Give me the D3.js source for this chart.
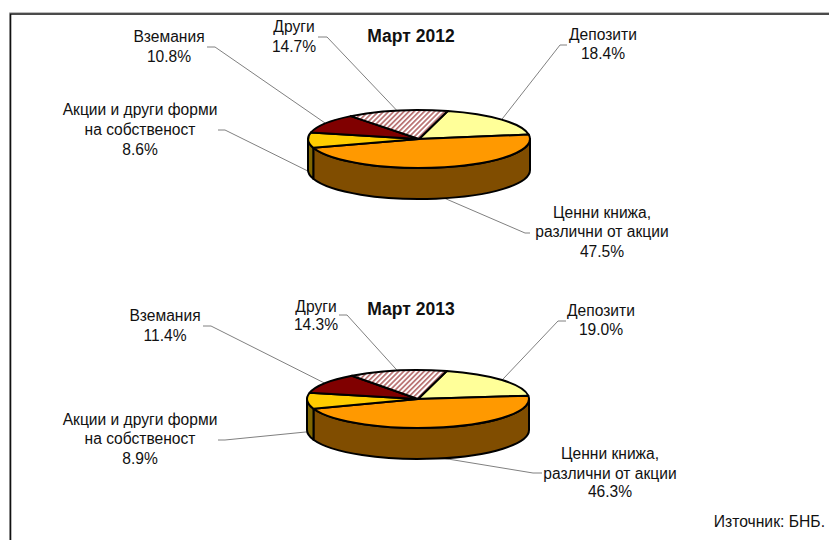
<!DOCTYPE html>
<html><head><meta charset="utf-8">
<script src="https://cdn.jsdelivr.net/npm/d3@7"></script>
<style>
html,body{margin:0;padding:0;background:#fff;overflow:hidden}
svg{display:block}
text{font-family:"Liberation Sans",Arial,sans-serif;fill:#111}
</style></head><body><svg id="c" width="829" height="540"></svg>
<script>
// ---- data ----
const categories = ["Депозити","Ценни книжа, различни от акции","Акции и други форми на собственост","Вземания","Други"];
const periods = ["Март 2012","Март 2013"];
const values2012 = [18.4,47.5,8.6,10.8,14.7];
const values2013 = [19.0,46.3,8.9,11.4,14.3];
const labelLines = [["Депозити"],["Ценни книжа,","различни от акции"],["Акции и други форми","на собственост"],["Вземания"],["Други"]];
const sourceNote = "Източник: БНБ.";
// ---- styles ----
const topColors  = ["#FFFF99","#FF9900","#FFCC00","#800000","url(#hatch)"];
const wallColors = ["#80804D","#804D00","#806600","#400000","#808080"];
// ---- layout ----
const pieLayouts = [
  {cx:419,cy:139,rx:111,ry:29,depth:31,titleY:42},
  {cx:418,cy:399,rx:111,ry:29,depth:31,titleY:315}
];
const labelLayouts = [
  [{x:603,y:[40,59],el:[[567,45],[560,45]]},
   {x:602,y:[218,237,257],el:[[530,233],[525,233]]},
   {x:140,y:[115,135,155],el:[[218,130],[225,130]]},
   {x:169,y:[42,62],el:[[207,47],[215,47]]},
   {x:294,y:[32,52],el:[[318,37],[327,37]]}],
  [{x:601,y:[316,335],el:[[566,321],[558,321]]},
   {x:610,y:[459,479,497],el:[[542,473],[533,473]]},
   {x:140,y:[425,444,464],el:[[218,440],[225,440]]},
   {x:165,y:[321,341],el:[[203,326],[211,326]]},
   {x:316,y:[312,330],el:[[339,315],[347,315]]}]
];
const anchorOnWall = [false,true,true,false,false];
const startDeg = 15;

const svg = d3.select("#c");
const defs = svg.append("defs");
const pat = defs.append("pattern").attr("id","hatch").attr("patternUnits","userSpaceOnUse")
  .attr("width",3.6).attr("height",3.6).attr("patternTransform","rotate(45)");
pat.append("rect").attr("width",3.6).attr("height",3.6).attr("fill","#fff");
pat.append("rect").attr("width",1.7).attr("height",3.6).attr("fill","#B87070");

svg.append("rect").attr("width",829).attr("height",540).attr("fill","#fff");
// frame (top + left only visible)
svg.append("path").attr("d","M9.5 540V12.5H829").attr("fill","none").attr("stroke","#bbb").attr("stroke-width",1);
svg.append("path").attr("d","M10.5 540V14H829").attr("fill","none").attr("stroke","#111").attr("stroke-width",1.6);

const pie = d3.pie().sort(null).value(d=>d)
  .startAngle(startDeg*Math.PI/180).endAngle((startDeg+360)*Math.PI/180);

[values2012,values2013].forEach((vals,k)=>{
  const L = pieLayouts[k];
  const sx = d3.scaleLinear().domain([-1,1]).range([L.cx-L.rx,L.cx+L.rx]);
  const sy = d3.scaleLinear().domain([-1,1]).range([L.cy-L.ry,L.cy+L.ry]);
  const px = a=>sx(Math.sin(a)), py = a=>sy(-Math.cos(a));
  const arcs = pie(vals);
  const g = svg.append("g");

  // leader lines (under pie)
  arcs.forEach((d,i)=>{
    const mid=(d.startAngle+d.endAngle)/2;
    const ax=px(mid), ay=py(mid)+(anchorOnWall[i]?L.depth:0);
    const el=labelLayouts[k][i].el;
    g.append("path").attr("d",d3.line()([el[0],el[1],[ax,ay]]))
      .attr("fill","none").attr("stroke","#808080").attr("stroke-width",1);
  });

  // walls (front half only)
  arcs.forEach((d,i)=>{
    const a0=Math.max(d.startAngle,Math.PI/2), a1=Math.min(d.endAngle,3*Math.PI/2);
    if(a1<=a0) return;
    const p=`M${px(a0)},${py(a0)}A${L.rx},${L.ry} 0 0 1 ${px(a1)},${py(a1)}`+
            `L${px(a1)},${py(a1)+L.depth}A${L.rx},${L.ry} 0 0 0 ${px(a0)},${py(a0)+L.depth}Z`;
    g.append("path").attr("d",p).attr("fill",wallColors[i]).attr("stroke","#000").attr("stroke-width",2).attr("stroke-linejoin","round");
  });

  // top slices
  arcs.forEach((d,i)=>{
    const large=(d.endAngle-d.startAngle)>Math.PI?1:0;
    const p=`M${L.cx},${L.cy}L${px(d.startAngle)},${py(d.startAngle)}`+
            `A${L.rx},${L.ry} 0 ${large} 1 ${px(d.endAngle)},${py(d.endAngle)}Z`;
    g.append("path").attr("d",p).attr("fill",topColors[i]).attr("stroke","#000").attr("stroke-width",2).attr("stroke-linejoin","round");
  });

  // labels
  arcs.forEach((d,i)=>{
    const lay=labelLayouts[k][i];
    const lines=[...labelLines[i],d.value.toFixed(1)+"%"];
    lines.forEach((t,j)=>{
      g.append("text").attr("x",lay.x).attr("y",lay.y[j]).attr("text-anchor","middle")
       .attr("font-size",15.6).text(t);
    });
  });
  g.append("text").attr("x",411).attr("y",L.titleY).attr("text-anchor","middle")
    .attr("font-size",17.5).attr("font-weight","bold").text(periods[k]);
});
svg.append("text").attr("x",825).attr("y",527).attr("text-anchor","end").attr("font-size",15.7).text(sourceNote);
</script></body></html>
